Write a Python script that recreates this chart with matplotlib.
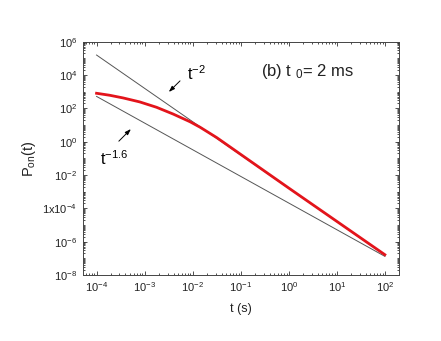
import numpy as np
import matplotlib
matplotlib.use("Agg")
import matplotlib.pyplot as plt
from matplotlib.ticker import FixedLocator, LogLocator, NullFormatter

plt.rcParams['font.family'] = ['Liberation Sans', 'DejaVu Sans']
plt.rcParams['mathtext.fontset'] = 'custom'
plt.rcParams['mathtext.rm'] = 'Liberation Sans'
plt.rcParams['mathtext.it'] = 'Liberation Sans'

# red curve
t_red = [1e-4, 1.87e-4, 3.55e-4, 7.94e-4, 1.77e-3, 3.94e-3, 8.83e-3, 1.43e-2,
         3.16e-2, 0.1, 1.0, 10.0, 100.0]
p_red = [810, 617, 427, 245, 117, 45.7, 15.8, 7.4,
         1.78, 0.174, 1.66e-3, 1.66e-5, 1.66e-7]

# guide lines (end points)
t_guide = [1e-4, 1e2]
p_t2 = [1.6e5, 1.6e-7]
p_t16 = [525, 1.32e-7]

x_ticks = [1e-4, 1e-3, 1e-2, 1e-1, 1e0, 1e1, 1e2]
x_labels = ['10$^{-4}$', '10$^{-3}$', '10$^{-2}$', '10$^{-1}$', '10$^{0}$', '10$^{1}$', '10$^{2}$']
y_ticks = [1e-8, 1e-6, 1e-4, 1e-2, 1e0, 1e2, 1e4, 1e6]
y_labels = ['10$^{-8}$', '10$^{-6}$', '1x10$^{-4}$', '10$^{-2}$', '10$^{0}$', '10$^{2}$', '10$^{4}$', '10$^{6}$']

fig = plt.figure(figsize=(4.41, 3.41), dpi=100)
ax = fig.add_axes([0.188, 0.1935, 0.717, 0.684])

ax.plot(t_guide, p_t2, color='#555555', lw=0.7)
ax.plot(t_guide, p_t16, color='#555555', lw=0.7)
ax.plot(t_red, p_red, color='#e3141b', lw=2)

ax.set_xscale('log')
ax.set_yscale('log')
ax.set_xlim(5.2e-5, 198)
ax.set_ylim(1e-8, 1e6)

ax.set_xticks(x_ticks)
ax.set_xticklabels(x_labels)
ax.xaxis.set_minor_locator(LogLocator(base=10, subs=np.arange(2, 10), numticks=20))
ax.xaxis.set_minor_formatter(NullFormatter())
ax.yaxis.set_major_locator(FixedLocator(y_ticks))
ax.set_yticklabels(y_labels)
ax.yaxis.set_minor_locator(LogLocator(base=10, subs=np.arange(1, 10), numticks=30))
ax.yaxis.set_minor_formatter(NullFormatter())

ax.tick_params(which='both', direction='in', top=True, right=True, labelsize=8, width=0.6,
               colors='#333333', labelcolor='#222222', pad=4)
ax.tick_params(which='major', length=3)
ax.tick_params(which='minor', length=1.5)
for s in ax.spines.values():
    s.set_linewidth(0.7)
    s.set_color('#444444')

ax.set_xlabel('t (s)', fontsize=9, color='#222222', labelpad=6)
ax.set_ylabel('P$_{on}$(t)', fontsize=10.5, color='#222222', labelpad=3)

ax.text(7.6e-3, 3.2e3, 't$^{-2}$', fontsize=11.5, ha='left', va='bottom')
ax.annotate('', xy=(2.9e-3, 10**2.87), xytext=(6.0e-3, 10**3.77),
            arrowprops=dict(arrowstyle='-|>,head_length=0.35,head_width=0.12', color='black', lw=0.7))
ax.text(1.17e-4, 10**-1.6, 't$^{-1.6}$', fontsize=11.5, ha='left', va='bottom')
ax.annotate('', xy=(5.7e-4, 10**0.88), xytext=(2.65e-4, 10**-0.085),
            arrowprops=dict(arrowstyle='-|>,head_length=0.35,head_width=0.12', color='black', lw=0.7))

ax.text(0.563, 0.871, '(b) t $_{0}$= 2 ms', transform=ax.transAxes, fontsize=12, ha='left', va='center', color='#222222')

fig.savefig('out.png', dpi=100)
